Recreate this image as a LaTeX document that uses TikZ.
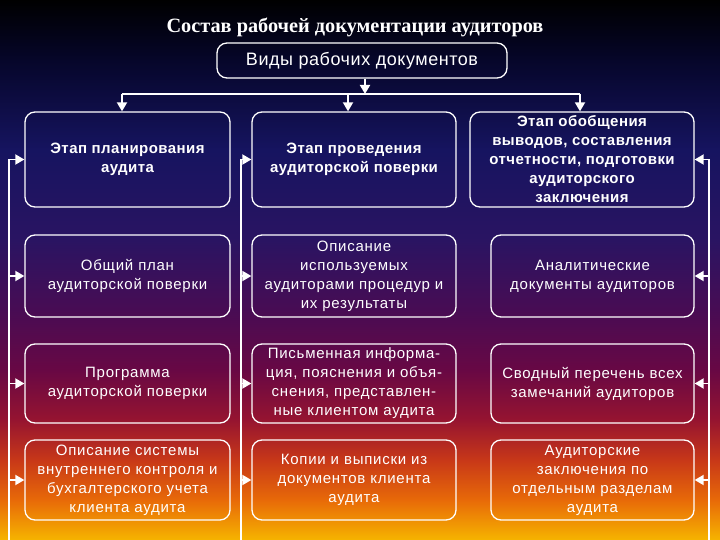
\documentclass[tikz,border=0pt]{standalone}
\usepackage{fontspec}
\setmainfont{Liberation Sans}
\newfontfamily\titlefont{Liberation Serif}
\newfontfamily\boxfont[LetterSpace=5]{Liberation Sans}
\usetikzlibrary{arrows.meta}
\definecolor{g0}{HTML}{000000}
\definecolor{g1}{HTML}{06062A}
\definecolor{g2}{HTML}{161460}
\definecolor{g3}{HTML}{2A1462}
\definecolor{g4}{HTML}{480C54}
\definecolor{g5}{HTML}{680844}
\definecolor{g6}{HTML}{961430}
\definecolor{g7}{HTML}{C83818}
\definecolor{g8}{HTML}{E86A08}
\definecolor{g9}{HTML}{F6B400}
\tikzset{
  box/.style={draw=white, line width=1.3pt, rounded corners=10pt, text=white,
    align=center, inner sep=0pt, font=\boxfont\fontsize{15}{19}\selectfont},
  bbox/.style={box, font=\boxfont\fontsize{15}{19}\selectfont\bfseries\addfontfeature{LetterSpace=3}},
  ln/.style={draw=white, line width=1.8pt},
  arr/.style={draw=white, line width=1.8pt, -{Triangle[width=10pt,length=9pt]}}
}
\begin{document}
\begin{tikzpicture}[x=1pt,y=-1pt]
\useasboundingbox (0,0) rectangle (720,540);
% background gradient
\shade[top color=g0, bottom color=g1] (0,0) rectangle (720,60.5);
\shade[top color=g1, bottom color=g2] (0,60) rectangle (720,150.5);
\shade[top color=g2, bottom color=g3] (0,150) rectangle (720,240.5);
\shade[top color=g3, bottom color=g4] (0,240) rectangle (720,310.5);
\shade[top color=g4, bottom color=g5] (0,310) rectangle (720,370.5);
\shade[top color=g5, bottom color=g6] (0,370) rectangle (720,420.5);
\shade[top color=g6, bottom color=g7] (0,420) rectangle (720,460.5);
\shade[top color=g7, bottom color=g8] (0,460) rectangle (720,500.5);
\shade[top color=g8, bottom color=g9] (0,500) rectangle (720,540);

\node[text=white, font=\titlefont\bfseries\fontsize{20.3}{23}\selectfont] (title) at (355,27) {Состав рабочей документации аудиторов};
\node[box, minimum width=290pt, minimum height=35pt, font=\boxfont\fontsize{18}{21}\selectfont\addfontfeature{LetterSpace=3}] (top) at (362,60.5) {Виды рабочих документов};

\node[bbox, minimum width=205pt, minimum height=95pt] (A1) at (127.5,159.5) {Этап планирования\\аудита};
\node[bbox, minimum width=204pt, minimum height=95pt] (B1) at (354,159.5) {Этап проведения\\аудиторской поверки};
\node[bbox, minimum width=224pt, minimum height=95pt] (C1) at (582,159.5) {Этап обобщения\\выводов, составления\\отчетности, подготовки\\аудиторского\\заключения};

\node[box, minimum width=205pt, minimum height=82pt] (A2) at (127.5,276) {Общий план\\аудиторской поверки};
\node[box, minimum width=204pt, minimum height=82pt] (B2) at (354,276) {Описание\\используемых\\аудиторами процедур и\\их результаты};
\node[box, minimum width=203pt, minimum height=82pt] (C2) at (592.5,276) {Аналитические\\документы аудиторов};

\node[box, minimum width=205pt, minimum height=79pt] (A3) at (127.5,383.5) {Программа\\аудиторской поверки};
\node[box, minimum width=204pt, minimum height=79pt] (B3) at (354,383.5) {Письменная информа-\\ция, пояснения и объя-\\снения, представлен-\\ные клиентом аудита};
\node[box, minimum width=203pt, minimum height=79pt] (C3) at (592.5,383.5) {Сводный перечень всех\\замечаний аудиторов};

\node[box, minimum width=205pt, minimum height=80pt] (A4) at (127.5,480) {Описание системы\\внутреннего контроля и\\бухгалтерского учета\\клиента аудита};
\node[box, minimum width=204pt, minimum height=80pt] (B4) at (354,480) {Копии и выписки из\\документов клиента\\аудита};
\node[box, minimum width=203pt, minimum height=80pt] (C4) at (592.5,480) {Аудиторские\\заключения по\\отдельным разделам\\аудита};

% top distribution
\coordinate (bus) at (0,94);
\coordinate (busL) at (122,94);
\coordinate (busR) at (580,94);
\draw[arr] ([xshift=3pt]top.south) -- ([xshift=3pt]top.south |- bus);
\draw[ln] (busL) -- (busR);
\draw[arr] (busL) -- (busL |- A1.north);
\draw[arr] ([xshift=-6pt]B1.north |- bus) -- ([xshift=-6pt]B1.north);
\draw[arr] (busR) -- (busR |- C1.north);

% vertical feeders
\coordinate (Lx) at (9,540);
\coordinate (Mx) at (241,540);
\coordinate (Rx) at (709,540);
\draw[ln] (Lx |- A1.west) -- (Lx);
\draw[ln] (Mx |- B1.west) -- (Mx);
\draw[ln] (Rx |- C1.east) -- (Rx);
\foreach \n in {A1,A2,A3,A4}{\draw[arr] (Lx |- \n.west) -- (\n.west);}
\foreach \n in {B1,B2,B3,B4}{\draw[arr] (Mx |- \n.west) -- (\n.west);}
\foreach \n in {C1,C2,C3,C4}{\draw[arr] (Rx |- \n.east) -- (\n.east);}
\end{tikzpicture}
\end{document}
